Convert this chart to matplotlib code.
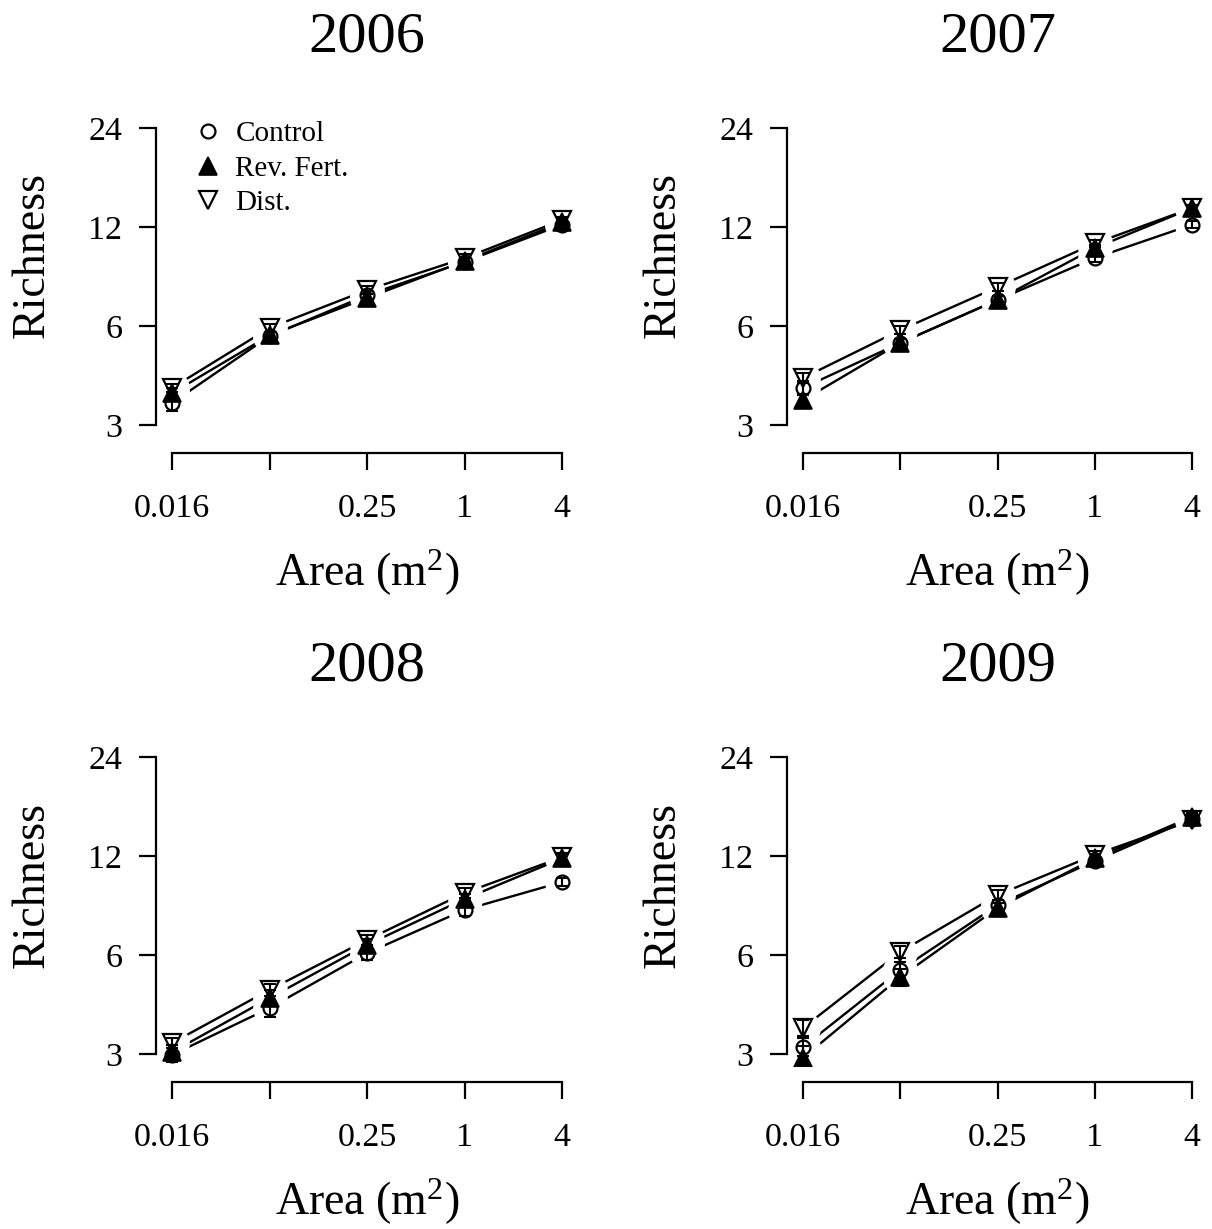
import matplotlib
matplotlib.use("Agg")
import matplotlib.pyplot as plt
from matplotlib.lines import Line2D
import numpy as np

plt.rcParams["font.family"] = ["Liberation Serif", "DejaVu Serif"]
plt.rcParams["mathtext.fontset"] = "custom"
plt.rcParams["mathtext.rm"] = "Liberation Serif"
plt.rcParams["mathtext.it"] = "Liberation Serif:italic"

# Quadrat areas (m^2) and axis ticks
areas = [1 / 64, 1 / 16, 1 / 4, 1, 4]
area_labels = ["0.016", "", "0.25", "1", "4"]
rich_ticks = [3, 6, 12, 24]
years = ["2006", "2007", "2008", "2009"]
treatments = ["Control", "Rev. Fert.", "Dist."]

# Mean species richness per area, one list per treatment and year
control_2006 = [3.50, 5.59, 7.45, 9.40, 12.2]
revfert_2006 = [3.75, 5.62, 7.30, 9.45, 12.4]
dist_2006 = [3.89, 5.92, 7.72, 9.65, 12.6]

control_2007 = [3.89, 5.33, 7.20, 9.66, 12.2]
revfert_2007 = [3.57, 5.33, 7.20, 10.36, 13.7]
dist_2007 = [4.17, 5.83, 7.88, 10.70, 13.7]

control_2008 = [2.98, 4.14, 6.08, 8.23, 10.0]
revfert_2008 = [3.04, 4.44, 6.44, 8.88, 11.8]
dist_2008 = [3.24, 4.70, 6.67, 9.26, 11.9]

control_2009 = [3.15, 5.40, 8.51, 11.6, 15.6]
revfert_2009 = [2.92, 5.14, 8.34, 11.8, 15.8]
dist_2009 = [3.60, 6.13, 9.13, 12.1, 15.4]

# Standard errors of the means
se_control_2006 = [0.20, 0.15, 0.20, 0.25, 0.30]
se_revfert_2006 = [0.15, 0.15, 0.20, 0.25, 0.35]
se_dist_2006 = [0.12, 0.15, 0.20, 0.25, 0.30]

se_control_2007 = [0.20, 0.15, 0.20, 0.25, 0.30]
se_revfert_2007 = [0.15, 0.15, 0.20, 0.25, 0.30]
se_dist_2007 = [0.15, 0.15, 0.20, 0.25, 0.30]

se_control_2008 = [0.15, 0.25, 0.30, 0.35, 0.30]
se_revfert_2008 = [0.15, 0.25, 0.25, 0.30, 0.35]
se_dist_2008 = [0.12, 0.20, 0.25, 0.30, 0.35]

se_control_2009 = [0.20, 0.30, 0.30, 0.35, 0.40]
se_revfert_2009 = [0.25, 0.30, 0.30, 0.35, 0.40]
se_dist_2009 = [0.20, 0.25, 0.30, 0.35, 0.40]

panels = {
    "2006": ([control_2006, revfert_2006, dist_2006],
             [se_control_2006, se_revfert_2006, se_dist_2006]),
    "2007": ([control_2007, revfert_2007, dist_2007],
             [se_control_2007, se_revfert_2007, se_dist_2007]),
    "2008": ([control_2008, revfert_2008, dist_2008],
             [se_control_2008, se_revfert_2008, se_dist_2008]),
    "2009": ([control_2009, revfert_2009, dist_2009],
             [se_control_2009, se_revfert_2009, se_dist_2009]),
}

marker_styles = [
    dict(marker="o", ms=10, mfc="none", mec="black", mew=1.6),
    dict(marker="^", ms=13, mfc="black", mec="black", mew=1.2),
    dict(marker="v", ms=13, mfc="none", mec="black", mew=1.6),
]

W, H = 1212, 1229
fig = plt.figure(figsize=(W / 100, H / 100), dpi=100)

# axes boxes in pixels: left, top, right, bottom
boxes = [
    (156.4, 116.1, 577.6, 436.9),
    (787.4, 116.1, 1207.6, 436.9),
    (156.4, 745.1, 577.6, 1065.9),
    (787.4, 745.1, 1207.6, 1065.9),
]

xext = 256 ** 0.04
yext = 8 ** 0.04

for i, (year, box) in enumerate(zip(years, boxes)):
    l, t, r, b = box
    ax = fig.add_axes([l / W, 1 - b / H, (r - l) / W, (b - t) / H])
    ax.set_xscale("log")
    ax.set_yscale("log")
    ax.set_xlim(areas[0] / xext, areas[-1] * xext)
    ax.set_ylim(rich_ticks[0] / yext, rich_ticks[-1] * yext)

    means, ses = panels[year]
    # connecting lines, broken around each point by a white halo
    for m in means:
        ax.plot(areas, m, color="black", lw=1.7, zorder=1,
                solid_capstyle="butt")
    for m in means:
        ax.plot(areas, m, ls="none", marker="o", ms=25, mfc="white",
                mec="none", zorder=2)
    for m, s, st in zip(means, ses, marker_styles):
        ax.errorbar(areas, m, yerr=s, fmt="none", ecolor="black",
                    elinewidth=1.5, capsize=4.3, capthick=1.5, zorder=3)
        ax.plot(areas, m, ls="none", zorder=4, **st)

    ax.spines["top"].set_visible(False)
    ax.spines["right"].set_visible(False)
    for sp in ("left", "bottom"):
        ax.spines[sp].set_linewidth(1.6)
    ax.spines["bottom"].set_position(("outward", 11.5))
    ax.spines["bottom"].set_bounds(areas[0], areas[-1])
    ax.spines["left"].set_bounds(rich_ticks[0], rich_ticks[-1])

    ax.set_xticks(areas)
    ax.set_xticklabels(area_labels)
    ax.set_yticks(rich_ticks)
    ax.set_yticklabels([str(v) for v in rich_ticks])
    ax.minorticks_off()
    ax.tick_params(axis="both", which="major", direction="out", length=12.5,
                   width=1.6, labelsize=24.5, color="black")
    ax.tick_params(axis="x", pad=16.8)
    ax.tick_params(axis="y", pad=12)

    xc = (l + r) / 2
    fig.text(xc / W, 1 - (t - 79) / H, year, ha="center", va="center",
             fontsize=42)
    fig.text(xc / W, 1 - (b + 136) / H, r"Area (m$^2$)", ha="center",
             va="center", fontsize=33)
    fig.text((l - 124) / W, 1 - ((t + b) / 2 - 21) / H, "Richness",
             rotation=90, ha="center", va="center", fontsize=33)

    if i == 0:
        handles = [Line2D([], [], ls="none", **st) for st in marker_styles]
        ax.legend(handles, treatments, loc="upper left",
                  bbox_to_anchor=(0.089, 0.985), frameon=False,
                  fontsize=21, handlelength=1.0, handletextpad=0.42,
                  labelspacing=0.28, borderpad=0, borderaxespad=0)

fig.savefig("out.png", dpi=100)
